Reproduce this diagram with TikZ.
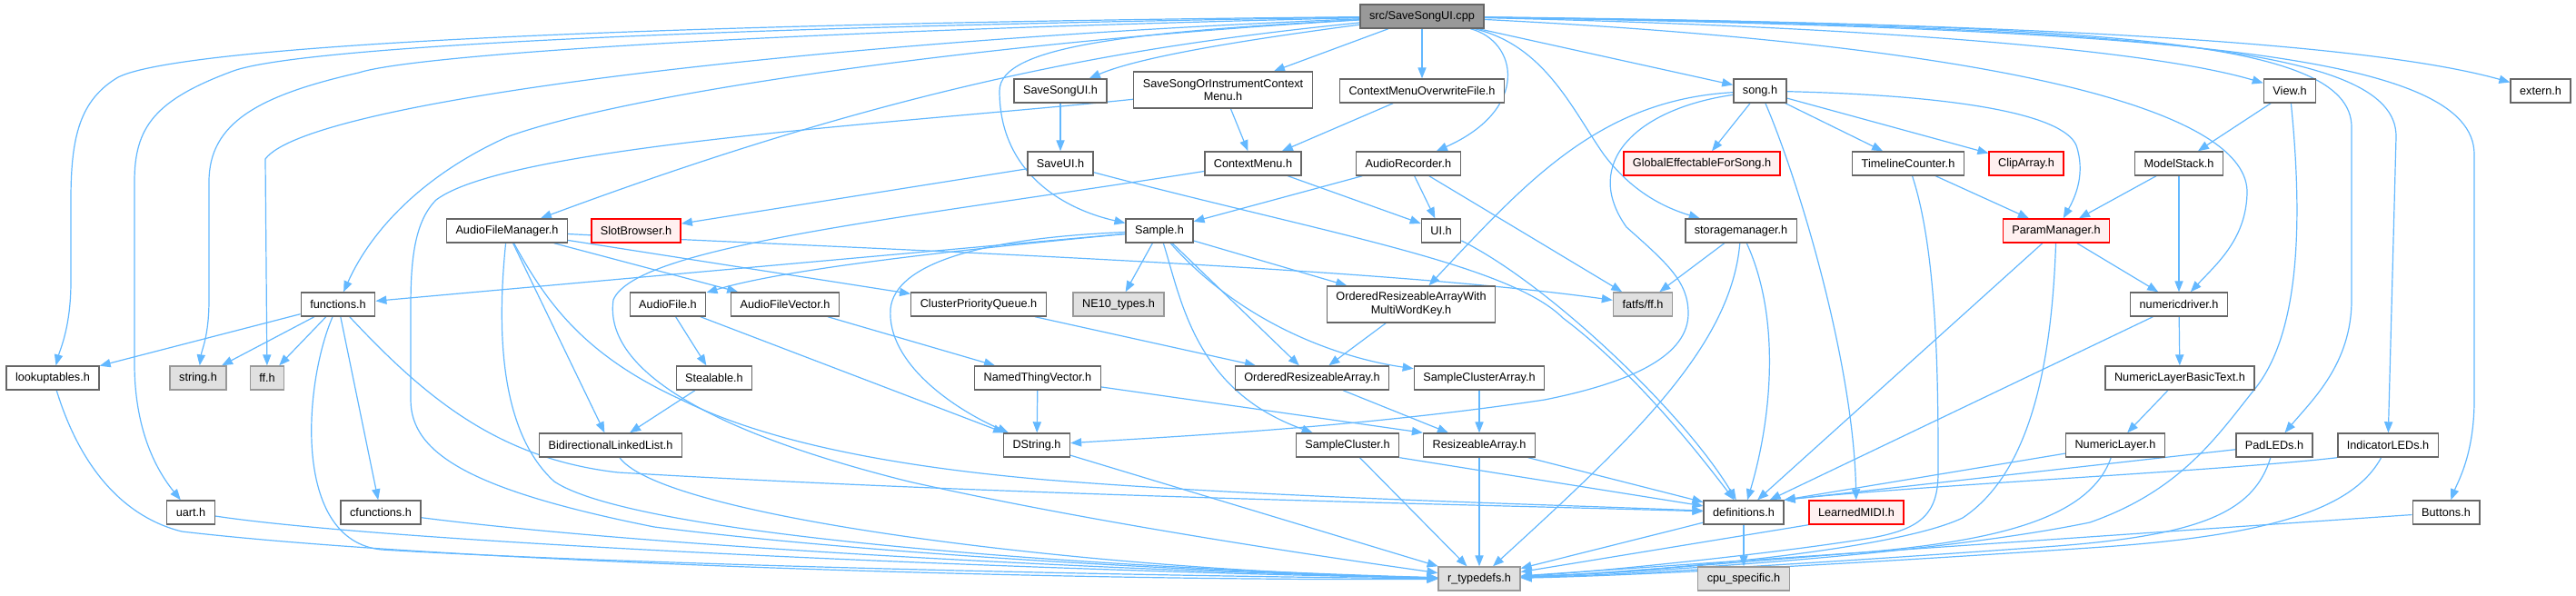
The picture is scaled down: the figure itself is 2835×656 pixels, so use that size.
\documentclass[tikz,border=0pt]{standalone}
\usepackage{fontspec}
\setmainfont{Liberation Sans}
\usepackage{xcolor}
\usepackage{tikz}
\usetikzlibrary{arrows.meta, backgrounds}

\definecolor{depblue}{HTML}{63B8FF}
\definecolor{boxline}{HTML}{666666}
\definecolor{rootfill}{HTML}{999999}
\definecolor{extfill}{HTML}{E0E0E0}
\definecolor{extline}{HTML}{999999}
\definecolor{cutfill}{HTML}{FFF0F0}
\definecolor{cutline}{HTML}{FF0000}

\begin{document}
\begin{tikzpicture}[
        x=0.5pt, y=-0.5pt,
        file/.style={rectangle, draw=boxline, line width=0.7pt, fill=white, minimum height=13pt, inner xsep=5pt, inner ysep=0pt, align=center, font=\fontsize{6.35pt}{7.3pt}\selectfont},
        rootfile/.style={file, fill=rootfill},
        extfile/.style={file, fill=extfill, draw=extline},
        cutfile/.style={file, fill=cutfill, draw=cutline},
        twoline/.style={minimum height=20pt},
        dep/.style={-{Triangle[length=6pt,width=4.6pt]}, draw=depblue, line width=0.6pt}
    ]
    \useasboundingbox (0,0) rectangle (2835,656);

    % The cpp file
    \node[rootfile] (root) at (1565,18) {src/SaveSongUI.cpp};

    % First row
    \node[file] (savesongui) at (1167,100) {SaveSongUI.h};
    \node[file, twoline] (ctxsaveor) at (1346,99) {SaveSongOrInstrumentContext\\Menu.h};
    \node[file] (ctxoverwrite) at (1565,100) {ContextMenuOverwriteFile.h};
    \node[file] (song) at (1937,100) {song.h};
    \node[file] (view) at (2520,100) {View.h};
    \node[file] (extern) at (2796,100) {extern.h};

    % Second row
    \node[file] (saveui) at (1167,180) {SaveUI.h};
    \node[file] (ctxmenu) at (1379,180) {ContextMenu.h};
    \node[file] (audiorec) at (1550,180) {AudioRecorder.h};
    \node[cutfile] (globalfx) at (1873,180) {GlobalEffectableForSong.h};
    \node[file] (timeline) at (2100,180) {TimelineCounter.h};
    \node[cutfile] (cliparray) at (2230,180) {ClipArray.h};
    \node[file] (modelstack) at (2398,180) {ModelStack.h};

    % Third row
    \node[file] (afmanager) at (558,254) {AudioFileManager.h};
    \node[cutfile] (slotbrowser) at (700,254) {SlotBrowser.h};
    \node[file] (sample) at (1276,254) {Sample.h};
    \node[file] (ui) at (1586,254) {UI.h};
    \node[file] (storage) at (1916,254) {storagemanager.h};
    \node[cutfile] (parammgr) at (2263,254) {ParamManager.h};

    % Fourth row
    \node[file] (functions) at (372,335) {functions.h};
    \node[file] (audiofile) at (735,335) {AudioFile.h};
    \node[file] (afvector) at (864,335) {AudioFileVector.h};
    \node[file] (clusterq) at (1077,335) {ClusterPriorityQueue.h};
    \node[extfile] (netypes) at (1231,335) {NE10\_types.h};
    \node[file, twoline] (oramulti) at (1553,335) {OrderedResizeableArrayWith\\MultiWordKey.h};
    \node[extfile] (fatfs) at (1808,335) {fatfs/ff.h};
    \node[file] (numdriver) at (2398,335) {numericdriver.h};

    % Fifth row
    \node[file] (lookup) at (58,416) {lookuptables.h};
    \node[extfile] (stringh) at (218,416) {string.h};
    \node[extfile] (ffh) at (294,416) {ff.h};
    \node[file] (stealable) at (786,416) {Stealable.h};
    \node[file] (namedvec) at (1142,416) {NamedThingVector.h};
    \node[file] (ordarray) at (1444,416) {OrderedResizeableArray.h};
    \node[file] (clusterarr) at (1628,416) {SampleClusterArray.h};
    \node[file] (numbasic) at (2399,416) {NumericLayerBasicText.h};

    % Sixth row
    \node[file] (bidilist) at (672,490) {BidirectionalLinkedList.h};
    \node[file] (dstring) at (1141,490) {DString.h};
    \node[file] (cluster) at (1483,490) {SampleCluster.h};
    \node[file] (resarray) at (1628,490) {ResizeableArray.h};
    \node[file] (numlayer) at (2328,490) {NumericLayer.h};
    \node[file] (padleds) at (2503,490) {PadLEDs.h};
    \node[file] (indleds) at (2628,490) {IndicatorLEDs.h};

    % Seventh row
    \node[file] (uart) at (210,564) {uart.h};
    \node[file] (cfunctions) at (419,564) {cfunctions.h};
    \node[file] (definitions) at (1919,564) {definitions.h};
    \node[cutfile] (learnedmidi) at (2043,564) {LearnedMIDI.h};
    \node[file] (buttons) at (2692,564) {Buttons.h};

    % Bottom row
    \node[extfile] (typedefs) at (1628,637) {r\_typedefs.h};
    \node[extfile] (cpuspec) at (1919,637) {cpu\_specific.h};

    \begin{scope}[on background layer]
    % Includes of the cpp file
    \draw[dep] (root) .. controls (700,26) and (200,50) .. (130,85) .. controls (88,110) and (78,150) .. (78,220) -- (78,310) .. controls (78,360) and (66,385) .. (lookup);
    \draw[dep] (root) .. controls (760,30) and (330,52) .. (257,78) .. controls (170,110) and (148,140) .. (148,200) -- (148,400) .. controls (148,470) and (170,515) .. (uart);
    \draw[dep] (root) .. controls (800,36) and (450,62) .. (395,80) .. controls (285,105) and (230,135) .. (230,200) -- (230,330) .. controls (230,370) and (222,385) .. (stringh);
    \draw[dep] (root) .. controls (900,45) and (340,110) .. (292,175) -- (ffh);
    \draw[dep] (root) .. controls (1100,45) and (700,100) .. (560,150) .. controls (470,190) and (410,250) .. (functions);
    \draw[dep] (root) .. controls (1250,50) and (1000,90) .. (afmanager);
    \draw[dep] (root) .. controls (1250,35) and (1100,50) .. (1100,100) .. controls (1100,190) and (1170,230) .. (sample);
    \draw[dep] (root) .. controls (1400,40) and (1260,60) .. (savesongui);
    \draw[dep] (root) -- (ctxsaveor);
    \draw[dep] (root) -- (ctxoverwrite);
    \draw[dep] (root) .. controls (1670,45) and (1685,120) .. (audiorec);
    \draw[dep] (root) .. controls (1700,50) and (1730,120) .. (1765,170) .. controls (1795,210) and (1830,228) .. (storage);
    \draw[dep] (root) -- (song);
    \draw[dep] (root) .. controls (2000,28) and (2350,50) .. (view);
    \draw[dep] (root) .. controls (2200,25) and (2600,45) .. (extern);
    \draw[dep] (root) .. controls (2200,50) and (2470,120) .. (2473,210) .. controls (2473,262) and (2440,290) .. (numdriver);
    \draw[dep] (root) .. controls (2300,28) and (2588,40) .. (2588,140) -- (2588,330) .. controls (2588,400) and (2545,440) .. (padleds);
    \draw[dep] (root) .. controls (2350,30) and (2637,50) .. (2637,150) -- (indleds);
    \draw[dep] (root) .. controls (2400,32) and (2723,60) .. (2723,170) -- (2723,440) .. controls (2723,500) and (2705,530) .. (buttons);

    % UI headers
    \draw[dep] (savesongui) -- (saveui);
    \draw[dep] (ctxsaveor) -- (ctxmenu);
    \draw[dep] (ctxsaveor) .. controls (1000,135) and (560,160) .. (480,220) .. controls (455,245) and (452,290) .. (452,340) -- (452,440) .. controls (452,500) and (520,540) .. (720,580) .. controls (1000,615) and (1400,632) .. (typedefs);
    \draw[dep] (ctxoverwrite) -- (ctxmenu);
    \draw[dep] (saveui) -- (slotbrowser);
    \draw[dep] (saveui) .. controls (1450,255) and (1660,290) .. (1720,350) .. controls (1800,410) and (1870,500) .. (definitions);
    \draw[dep] (ctxmenu) -- (ui);
    \draw[dep] (ctxmenu) .. controls (1000,240) and (700,270) .. (675,330) .. controls (665,400) and (760,470) .. (1000,530) .. controls (1200,575) and (1450,612) .. (typedefs);
    \draw[dep] (audiorec) -- (sample);
    \draw[dep] (audiorec) -- (ui);
    \draw[dep] (audiorec) -- (fatfs);
    \draw[dep] (ui) .. controls (1700,310) and (1850,450) .. (definitions);

    % song.h
    \draw[dep] (song) -- (globalfx);
    \draw[dep] (song) -- (timeline);
    \draw[dep] (song) -- (cliparray);
    \draw[dep] (song) .. controls (2150,105) and (2270,125) .. (2285,160) .. controls (2295,190) and (2285,215) .. (parammgr);
    \draw[dep] (song) .. controls (1980,200) and (2040,400) .. (learnedmidi);
    \draw[dep] (song) .. controls (1760,110) and (1680,200) .. (oramulti);
    \draw[dep] (song) .. controls (1800,120) and (1740,180) .. (1790,250) .. controls (1835,290) and (1858,310) .. (1858,345) .. controls (1858,390) and (1800,420) .. (1700,440) .. controls (1500,470) and (1300,480) .. (dstring);
    \draw[dep] (timeline) -- (parammgr);
    \draw[dep] (timeline) .. controls (2133,280) and (2133,430) .. (2133,520) .. controls (2133,565) and (2115,582) .. (2060,592) .. controls (1950,610) and (1750,630) .. (typedefs);

    % View and parameters
    \draw[dep] (view) -- (modelstack);
    \draw[dep] (view) .. controls (2535,250) and (2530,370) .. (2480,430) .. controls (2440,480) and (2400,540) .. (2300,575) .. controls (2120,612) and (1800,630) .. (typedefs);
    \draw[dep] (modelstack) -- (parammgr);
    \draw[dep] (modelstack) -- (numdriver);
    \draw[dep] (parammgr) -- (numdriver);
    \draw[dep] (parammgr) -- (definitions);
    \draw[dep] (parammgr) .. controls (2258,400) and (2235,520) .. (2160,570) .. controls (2080,608) and (1800,630) .. (typedefs);
    \draw[dep] (numdriver) -- (numbasic);
    \draw[dep] (numdriver) -- (definitions);
    \draw[dep] (numbasic) -- (numlayer);
    \draw[dep] (numlayer) -- (definitions.north east);
    \draw[dep] (padleds) -- (definitions.north east);
    \draw[dep] (indleds.south west) .. controls (2450,518) and (2100,535) .. (definitions.north east);
    \draw[dep] (numlayer) .. controls (2300,570) and (2200,595) .. (2050,608) .. controls (1900,620) and (1760,632) .. (typedefs);
    \draw[dep] (padleds) .. controls (2480,565) and (2420,590) .. (2250,602) .. controls (2000,620) and (1780,633) .. (typedefs);
    \draw[dep] (indleds) .. controls (2590,560) and (2500,590) .. (2300,603) .. controls (2050,620) and (1790,634) .. (typedefs);
    \draw[dep] (buttons) -- (typedefs);

    % Storage
    \draw[dep] (storage) -- (fatfs);
    \draw[dep] (storage) .. controls (1960,350) and (1950,460) .. (definitions);
    \draw[dep] (storage) .. controls (1905,380) and (1800,480) .. (typedefs);
    \draw[dep] (learnedmidi.south west) -- (typedefs);
    \draw[dep] (definitions) -- (typedefs);
    \draw[dep] (definitions) -- (cpuspec);

    % Audio files
    \draw[dep] (afmanager) -- (clusterq);
    \draw[dep] (afmanager) -- (afvector);
    \draw[dep] (afmanager) .. controls (900,272) and (1500,292) .. (fatfs);
    \draw[dep] (afmanager) -- (bidilist);
    \draw[dep] (afmanager) .. controls (600,330) and (640,390) .. (750,440) .. controls (850,490) and (1000,515) .. (1150,528) .. controls (1400,548) and (1700,555) .. (definitions);
    \draw[dep] (afmanager) .. controls (545,380) and (555,480) .. (610,530) .. controls (700,590) and (1200,625) .. (typedefs);

    % Sample.h
    \draw[dep] (sample) -- (functions);
    \draw[dep] (sample) .. controls (1000,280) and (850,300) .. (audiofile);
    \draw[dep] (sample) .. controls (1080,262) and (985,290) .. (980,340) .. controls (976,400) and (1050,450) .. (dstring);
    \draw[dep] (sample) -- (netypes);
    \draw[dep] (sample) .. controls (1300,330) and (1315,430) .. (cluster);
    \draw[dep] (sample) -- (ordarray);
    \draw[dep] (sample) .. controls (1370,360) and (1480,395) .. (clusterarr);
    \draw[dep] (sample) -- (oramulti);

    % functions.h
    \draw[dep] (functions) -- (lookup);
    \draw[dep] (functions) -- (stringh);
    \draw[dep] (functions) -- (ffh);
    \draw[dep] (functions) -- (cfunctions);
    \draw[dep] (functions) .. controls (335,420) and (320,595) .. (420,605) .. controls (700,622) and (1300,635) .. (typedefs);
    \draw[dep] (functions) .. controls (470,440) and (550,505) .. (680,520) .. controls (1100,545) and (1600,555) .. (definitions);
    \draw[dep] (lookup) .. controls (90,520) and (140,570) .. (200,585) .. controls (500,620) and (1200,640) .. (typedefs);
    \draw[dep] (uart) .. controls (450,600) and (1200,630) .. (typedefs);
    \draw[dep] (cfunctions) .. controls (700,600) and (1200,628) .. (typedefs);

    % Containers
    \draw[dep] (audiofile) -- (stealable);
    \draw[dep] (audiofile) -- (dstring);
    \draw[dep] (afvector) -- (namedvec);
    \draw[dep] (clusterq) -- (ordarray);
    \draw[dep] (stealable) -- (bidilist);
    \draw[dep] (namedvec) -- (dstring);
    \draw[dep] (namedvec) -- (resarray.north west);
    \draw[dep] (oramulti) -- (ordarray);
    \draw[dep] (ordarray) -- (resarray);
    \draw[dep] (clusterarr) -- (resarray);
    \draw[dep] (cluster.south east) -- (definitions);
    \draw[dep] (cluster) -- (typedefs);
    \draw[dep] (resarray) -- (definitions);
    \draw[dep] (resarray) -- (typedefs);
    \draw[dep] (dstring) -- (typedefs);
    \draw[dep] (bidilist) .. controls (730,570) and (1200,628) .. (typedefs);
    \end{scope}

\end{tikzpicture}
\end{document}
